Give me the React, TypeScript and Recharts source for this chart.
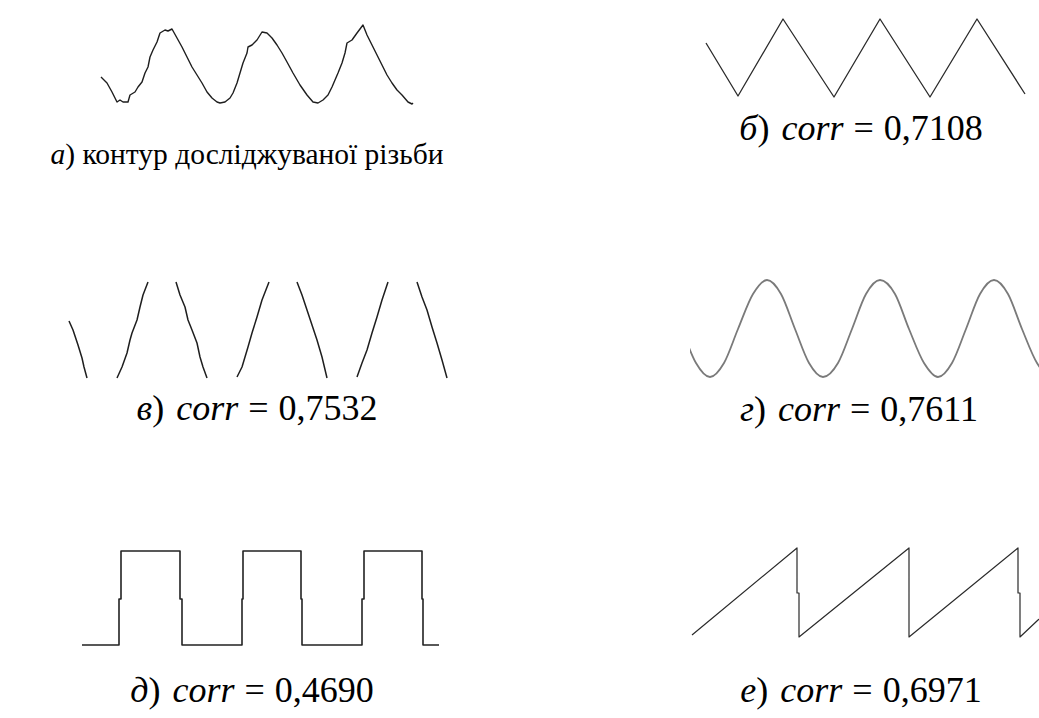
import React from 'react';
import { LineChart, Line, XAxis, YAxis } from 'recharts';

// а) measured thread contour: position along the profile and profile height
const contourX = [1, 7, 12, 17, 20, 23, 28, 30, 35, 38, 42, 45, 48, 50, 53, 57, 60, 65, 68, 72, 77, 82, 87, 92, 97, 102, 107, 112, 117, 120, 125, 130, 133, 137, 140, 143, 147, 148, 152, 157, 162, 167, 172, 177, 182, 187, 193, 200, 207, 213, 218, 223, 228, 232, 235, 238, 242, 245, 247, 252, 257, 263, 267, 272, 277, 282, 287, 292, 297, 302, 308, 312, 313];
const contourY = [26, 20, 11, 1, 3, 1, 1, 8, 11, 16, 21, 30, 36, 46, 53, 61, 70, 73, 72, 74, 65, 56, 46, 36, 28, 20, 11, 5, 1, 0, 1, 5, 10, 20, 30, 40, 50, 56, 58, 63, 71, 70, 65, 58, 50, 41, 30, 18, 8, 1, 0, 3, 8, 16, 23, 30, 40, 50, 60, 63, 70, 78, 68, 58, 48, 38, 28, 20, 13, 8, 1, -1, 0];

// б) triangular profile
const triangleX = [6, 38, 83, 134, 180, 230, 277, 325];
const triangleY = [54, 1, 78, 0, 78, 0, 78, 3];

// в) trapezoidal profile (flanks only, gaps between them)
const flankX = [9, 13, 18, 22, 24, 27, 42, 57, 62, 67, 70, 72, 77, 80, 83, 88, 102, 116, 120, 125, 128, 132, 137, 140, 143, 147, 162, 177, 182, 185, 188, 192, 197, 202, 209, 223, 237, 242, 247, 252, 257, 262, 267, 282, 297, 302, 307, 312, 317, 322, 328, 342, 357, 362, 367, 372, 377, 382, 387];
const flankY: (number | null)[] = [58, 49, 34, 21, 12, 1, null, 1, 12, 26, 39, 46, 59, 72, 84, 97, null, 97, 84, 72, 59, 49, 36, 22, 12, 1, null, 2, 12, 22, 32, 46, 62, 79, 97, null, 97, 84, 69, 54, 39, 22, 1, null, 2, 16, 29, 46, 62, 79, 97, null, 97, 82, 69, 52, 36, 19, 1];

// г) sinusoidal profile
const sineX = [-8, 6, 20, 34, 48, 63, 77, 91, 105, 119, 133, 148, 162, 176, 190, 205, 219, 234, 248, 262, 276, 290, 304, 318, 332, 347, 361, 375];
const sineY = [49, 15, 1, 15, 49, 84, 98, 84, 49, 15, 1, 15, 49, 84, 98, 84, 49, 15, 1, 15, 49, 84, 98, 84, 49, 15, 1, 15];

// д) rectangular profile
const squareX = [2, 39, 39, 41, 41, 100, 100, 102, 102, 162, 162, 163, 163, 221, 221, 222, 222, 282, 282, 284, 284, 342, 342, 343, 343, 359];
const squareY = [0, 0, 46, 46, 94, 94, 46, 46, 0, 0, 46, 46, 94, 94, 46, 46, 0, 0, 46, 46, 94, 94, 46, 46, 0, 0];

// е) sawtooth profile
const sawX = [12, 117, 117, 119, 119, 229, 229, 338, 338, 340, 340, 358, 380];
const sawY = [3, 90, 45, 45, 1, 90, 1, 90, 45, 45, 1, 18, 36];

const captionLetters = ['а', 'б', 'в', 'г', 'д', 'е'];
const correlations = ['0,7108', '0,7532', '0,7611', '0,4690', '0,6971'];

type Pt = { t: number; h: number | null };
const zip = (xs: number[], ys: (number | null)[]): Pt[] => xs.map((t, i) => ({ t, h: ys[i] }));

type TraceProps = {
  data: Pt[];
  originX: number;
  originY: number;
  xLo: number;
  xHi: number;
  yLo: number;
  yHi: number;
  stroke: string;
  strokeWidth: number;
  curve?: 'linear' | 'monotone';
};

function Trace({ data, originX, originY, xLo, xHi, yLo, yHi, stroke, strokeWidth, curve = 'linear' }: TraceProps) {
  const width = xHi - xLo;
  const height = yHi - yLo;
  return (
    <div style={{ position: 'absolute', left: originX + xLo, top: originY - yHi }}>
      <LineChart width={width} height={height} data={data} margin={{ top: 0, right: 0, bottom: 0, left: 0 }}>
        <XAxis type="number" dataKey="t" domain={[xLo, xHi]} hide allowDataOverflow />
        <YAxis type="number" domain={[yLo, yHi]} hide allowDataOverflow />
        <Line
          dataKey="h"
          type={curve}
          stroke={stroke}
          strokeWidth={strokeWidth}
          dot={false}
          activeDot={false}
          connectNulls={false}
          isAnimationActive={false}
          strokeLinejoin="round"
        />
      </LineChart>
    </div>
  );
}

const serif = "'Liberation Serif'";

// Places a one-line caption centred on cx with its baseline at y.
function Caption({ cx, baseline, size, children }: { cx: number; baseline: number; size: number; children: React.ReactNode }) {
  return (
    <div
      style={{
        position: 'absolute',
        left: cx,
        top: baseline - 0.8375 * size,
        transform: 'translateX(-50%)',
        fontFamily: serif,
        fontSize: size,
        lineHeight: 1,
        whiteSpace: 'nowrap',
        color: '#000',
      }}
    >
      {children}
    </div>
  );
}

function CorrCaption({ cx, baseline, letter, value }: { cx: number; baseline: number; letter: string; value: string }) {
  return (
    <Caption cx={cx} baseline={baseline} size={36}>
      <i>{letter}</i>
      <span>)</span>
      <i style={{ marginLeft: 12 }}>corr</i>
      <span style={{ marginLeft: 10 }}>=</span>
      <span style={{ marginLeft: 10 }}>{value}</span>
    </Caption>
  );
}

export default function App() {
  return (
    <div style={{ position: 'absolute', left: 0, top: 0, width: 1039, height: 718, background: '#fff', overflow: 'hidden' }}>
      <Trace data={zip(contourX, contourY)} originX={100} originY={103} xLo={-4} xHi={318} yLo={-4} yHi={82} stroke="#1e1e1e" strokeWidth={1.4} />
      <Trace data={zip(triangleX, triangleY)} originX={700} originY={97} xLo={0} xHi={330} yLo={-4} yHi={82} stroke="#2a2a2a" strokeWidth={1.3} />
      <Trace data={zip(flankX, flankY)} originX={60} originY={379} xLo={0} xHi={392} yLo={-4} yHi={101} stroke="#1e1e1e" strokeWidth={1.5} />
      <Trace data={zip(sineX, sineY)} originX={690} originY={378} xLo={0} xHi={349} yLo={-4} yHi={102} stroke="#7a7a7a" strokeWidth={1.8} curve="monotone" />
      <Trace data={zip(squareX, squareY)} originX={80} originY={645} xLo={0} xHi={362} yLo={-4} yHi={98} stroke="#222" strokeWidth={1.6} />
      <Trace data={zip(sawX, sawY)} originX={680} originY={638} xLo={0} xHi={359} yLo={-4} yHi={94} stroke="#2a2a2a" strokeWidth={1.2} />

      <Caption cx={247} baseline={165} size={29.5}>
        <i>{captionLetters[0]}</i>
        <span>) контур досліджуваної різьби</span>
      </Caption>
      <CorrCaption cx={861} baseline={140} letter={captionLetters[1]} value={correlations[0]} />
      <CorrCaption cx={257} baseline={420} letter={captionLetters[2]} value={correlations[1]} />
      <CorrCaption cx={859} baseline={421} letter={captionLetters[3]} value={correlations[2]} />
      <CorrCaption cx={252} baseline={702} letter={captionLetters[4]} value={correlations[3]} />
      <CorrCaption cx={861} baseline={702} letter={captionLetters[5]} value={correlations[4]} />
    </div>
  );
}
